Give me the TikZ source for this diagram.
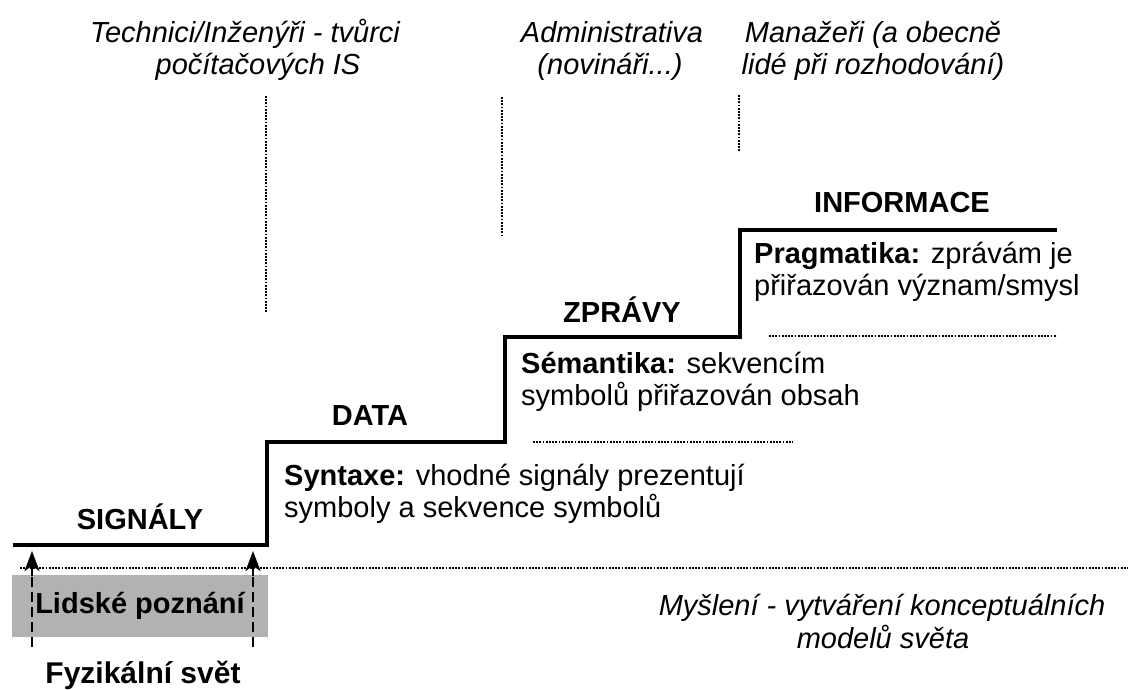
\documentclass[tikz,border=0pt]{standalone}
\usepackage{fontspec}
\setmainfont{Liberation Sans}
\usetikzlibrary{arrows.meta}
\begin{document}
\begin{tikzpicture}[x=1pt,y=-1pt,
  txt/.style={font=\fontsize{29}{33}\selectfont, inner sep=0pt, anchor=base},
  ital/.style={txt, font=\fontsize{29}{33}\selectfont\itshape},
  lvl/.style={txt, font=\fontsize{29}{33}\selectfont\bfseries},
  desc/.style={txt, anchor=base west},
  dots/.style={line width=2.4pt, dash pattern=on 1.8pt off 1.4pt},
  stair/.style={line width=3.2pt, line join=miter, line cap=rect},
  dashline/.style={line width=2.2pt, dash pattern=on 10pt off 5pt},
  tipline/.style={line width=2.2pt, solid, -{Stealth[length=20pt,width=15pt,inset=5pt]}}
]
\useasboundingbox (0,0) rectangle (1128,689);

% top captions
\node[ital] (tech1) at (245,42) {Technici/Inženýři - tvůrci};
\node[ital] (tech2) at (258,74) {počítačových IS};
\node[ital] (adm1) at (612,42) {Administrativa};
\node[ital] (adm2) at (610,74) {(novináři...)};
\node[ital] (man1) at (873,42) {Manažeři (a obecně};
\node[ital] (man2) at (873,74) {lidé při rozhodování)};

% vertical dotted separators
\coordinate (v1a) at (266,96);  \coordinate (v1b) at (266,313);
\coordinate (v2a) at (502,97);  \coordinate (v2b) at (502,235);
\coordinate (v3a) at (739,95);  \coordinate (v3b) at (739,152);
\draw[dots] (v1a) -- (v1b);
\draw[dots] (v2a) -- (v2b);
\draw[dots] (v3a) -- (v3b);

% staircase
\coordinate (s0) at (15,545);
\coordinate (s1) at (267,545);
\coordinate (s2) at (267,442);
\coordinate (s3) at (505,442);
\coordinate (s4) at (505,337);
\coordinate (s5) at (740,337);
\coordinate (s6) at (740,230);
\coordinate (s7) at (1055,230);
\draw[stair] (s0) -- (s1) -- (s2) -- (s3) -- (s4) -- (s5) -- (s6) -- (s7);

% level labels
\node[lvl] (signaly) at (140,529) {SIGNÁLY};
\node[lvl] (data) at (370,425) {DATA};
\node[lvl] (zpravy) at (622,322) {ZPRÁVY};
\node[lvl] (informace) at (902,212) {INFORMACE};

% descriptions
\node[desc] (syn1) at (284,485) {\textbf{Syntaxe:} vhodné signály prezentují};
\node[desc] (syn2) at (284,517) {symboly a sekvence symbolů};
\node[desc] (sem1) at (521,373) {\textbf{Sémantika:} sekvencím};
\node[desc] (sem2) at (521,405) {symbolů přiřazován obsah};
\node[desc] (prag1) at (754,263) {\textbf{Pragmatika:} zprávám je};
\node[desc] (prag2) at (754,295) {přiřazován význam/smysl};

% horizontal dotted rules
\coordinate (h1a) at (533,442); \coordinate (h1b) at (793,442);
\coordinate (h2a) at (769,336); \coordinate (h2b) at (1057,336);
\coordinate (h3a) at (20,568);  \coordinate (h3b) at (1128,568);
\draw[dots] (h1a) -- (h1b);
\draw[dots] (h2a) -- (h2b);
\draw[dots] (h3a) -- (h3b);

% grey box
\node[fill=black!30, minimum width=256pt, minimum height=62pt, inner sep=0pt,
      font=\fontsize{29}{33}\selectfont\bfseries] (lidske) at (140,606) {Lidské poznání};

% dashed arrows
\coordinate (a1s) at (32,647);  \coordinate (a1m) at (32,576); \coordinate (a1e) at (32,551);
\coordinate (a2s) at (253,647); \coordinate (a2m) at (253,576); \coordinate (a2e) at (253,551);
\draw[dashline] (a1s) -- (a1m);
\draw[tipline] (a1m) -- (a1e);
\draw[dashline] (a2s) -- (a2m);
\draw[tipline] (a2m) -- (a2e);

\node[txt, font=\fontsize{30}{34}\selectfont\bfseries] (fyz) at (143,683) {Fyzikální svět};

% thinking caption
\node[ital] (mys1) at (882,615) {Myšlení - vytváření konceptuálních};
\node[ital] (mys2) at (883,648) {modelů světa};
\end{tikzpicture}
\end{document}
